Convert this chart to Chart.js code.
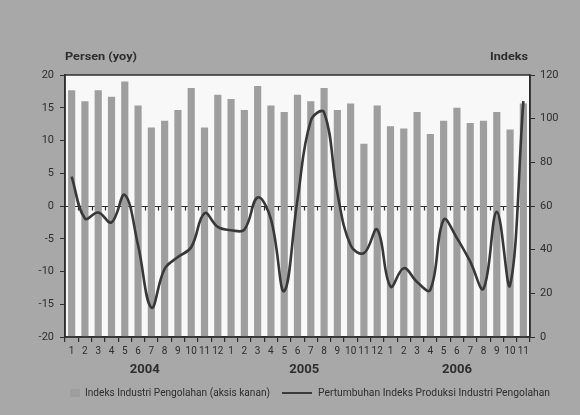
<!DOCTYPE html>
<html><head><meta charset="utf-8">
<script src="https://cdn.jsdelivr.net/npm/chart.js@4/dist/chart.umd.min.js"></script>
<style>html,body{margin:0;padding:0;background:#a8a8a8;}#wrap{width:580px;height:415px;}</style>
</head><body><div id="wrap"><canvas id="c" width="580" height="415"></canvas></div>
<script>
// ---- data ----
const months = ['1','2','3','4','5','6','7','8','9','10','11','12',
                '1','2','3','4','5','6','7','8','9','10','11','12',
                '1','2','3','4','5','6','7','8','9','10','11'];
const years = ['2004','2005','2006'];
const yearStarts = [0, 12, 24];
const yearCounts = [12, 12, 11];
const indexValues = [113, 108, 113, 110, 117, 106, 96, 99, 104, 114, 96, 111,
                     109, 104, 115, 106, 103, 111, 108, 114, 104, 107, 88.5, 106,
                     96.5, 95.5, 103, 93, 99, 105, 98, 99, 103, 95, 107];
const growthValues = [4.5, -1.9, -1.0, -2.5, 1.7, -6, -15.5, -9.6, -7.8, -6.3, -1.1, -3.2,
                      -3.7, -3.6, 1.3, -2, -13, 1, 13, 14.3, 2, -6, -7.2, -3.6,
                      -12.3, -9.5, -11.6, -12.8, -2.1, -4.9, -8.5, -12.6, -0.9, -12.1, 16];
const leftRange = [-20, 20];
const rightRange = [0, 120];
const leftTitle = 'Persen (yoy)';
const rightTitle = 'Indeks';
const barLabel = 'Indeks Industri Pengolahan (aksis kanan)';
const lineLabel = 'Pertumbuhan Indeks Produksi Industri Pengolahan';

// ---- style ----
const FONT = '"Liberation Sans Narrow", Roboto, "DejaVu Sans", sans-serif';
const INK = '#2e2e2e';
const BG = '#a8a8a8';
const BAR = '#9e9e9e';

function fitText(ctx, text, x, y, w) {
  const m = ctx.measureText(text).width;
  ctx.save(); ctx.translate(x, y); ctx.scale(w / m, 1); ctx.fillText(text, 0, 0); ctx.restore();
}

const decor = {
  id: 'decor',
  beforeDraw(chart) {
    const {ctx, chartArea: a} = chart;
    ctx.save();
    ctx.fillStyle = BG; ctx.fillRect(0, 0, chart.width, chart.height);
    ctx.fillStyle = '#f8f8f8'; ctx.fillRect(a.left, a.top, a.right - a.left, a.bottom - a.top);
    ctx.restore();
  },
  beforeDatasetsDraw(chart) {
    const {ctx, chartArea: a, scales} = chart;
    const y0 = Math.round(scales.y.getPixelForValue(0)) + 0.5;
    ctx.save();
    ctx.strokeStyle = INK; ctx.lineWidth = 1.2;
    ctx.beginPath(); ctx.moveTo(a.left, y0); ctx.lineTo(a.right, y0); ctx.stroke();
    const n = months.length;
    const step = (a.right - a.left) / n;
    ctx.beginPath();
    for (let i = 1; i < n; i++) {
      const x = Math.round(a.left + i * step) + 0.5;
      ctx.moveTo(x, y0); ctx.lineTo(x, y0 + 4);
    }
    ctx.stroke();
    ctx.restore();
  },
  afterDraw(chart) {
    const {ctx, chartArea: a, scales} = chart;
    ctx.save();
    ctx.strokeStyle = INK; ctx.lineWidth = 1.5;
    ctx.strokeRect(a.left, a.top, a.right - a.left, a.bottom - a.top);
    ctx.fillStyle = INK;
    ctx.textBaseline = 'middle';
    ctx.font = 'bold 11px ' + FONT;
    ctx.textAlign = 'left';
    fitText(ctx, leftTitle, 65, 57, 72);
    fitText(ctx, rightTitle, 490, 57, 38);
    // years
    ctx.font = 'bold 12px ' + FONT;
    years.forEach((yr, k) => {
      const i0 = yearStarts[k], i1 = yearStarts[k] + yearCounts[k] - 1;
      const xc = (scales.x.getPixelForValue(i0) + scales.x.getPixelForValue(i1)) / 2;
      fitText(ctx, yr, xc - 15, 370, 30);
    });
    // legend
    ctx.font = '10px ' + FONT;
    ctx.fillStyle = BAR;
    ctx.fillRect(70, 389, 10, 8);
    ctx.fillStyle = INK;
    fitText(ctx, barLabel, 85, 393, 185);
    ctx.strokeStyle = '#3a3a3a'; ctx.lineWidth = 2;
    ctx.beginPath(); ctx.moveTo(282, 393); ctx.lineTo(312, 393); ctx.stroke();
    fitText(ctx, lineLabel, 318, 393, 232);
    ctx.restore();
  }
};

new Chart(document.getElementById('c'), {
  data: {
    labels: months,
    datasets: [
      { type: 'line', label: lineLabel, data: growthValues, yAxisID: 'y',
        borderColor: '#383838', borderWidth: 2.6, pointRadius: 0, tension: 0.4,
        fill: false, order: 0, clip: false },
      { type: 'bar', label: barLabel, data: indexValues, yAxisID: 'y1',
        backgroundColor: BAR, borderWidth: 0, barPercentage: 0.54, categoryPercentage: 1, order: 1 }
    ]
  },
  options: {
    responsive: false, animation: false, devicePixelRatio: 1,
    layout: { padding: { top: 75, left: 0, right: 0, bottom: 0 } },
    plugins: { legend: { display: false }, tooltip: { enabled: false } },
    scales: {
      x: {
        type: 'category', offset: true,
        grid: { display: true, drawOnChartArea: false, drawTicks: true, tickLength: 5, color: INK, offset: true, lineWidth: 1.2 },
        border: { display: true, color: INK, width: 1.5 },
        ticks: { autoSkip: false, maxRotation: 0, minRotation: 0, padding: 3, color: INK,
                 font: { family: FONT, size: 10 } },
        afterFit: s => { s.height = 78; }
      },
      y: {
        position: 'left', min: leftRange[0], max: leftRange[1],
        ticks: { stepSize: 5, color: INK, padding: 6, font: { family: FONT, size: 11 } },
        grid: { drawOnChartArea: false, drawTicks: true, tickLength: 5, color: INK },
        border: { display: true, color: INK, width: 1.5 },
        afterFit: s => { s.width = 65; }
      },
      y1: {
        position: 'right', min: rightRange[0], max: rightRange[1],
        ticks: { stepSize: 20, color: INK, padding: 5, font: { family: FONT, size: 11 } },
        grid: { drawOnChartArea: false, drawTicks: true, tickLength: 5, color: INK },
        border: { display: true, color: INK, width: 1.5 },
        afterFit: s => { s.width = 50; }
      }
    }
  },
  plugins: [decor]
});
</script>
</body></html>
